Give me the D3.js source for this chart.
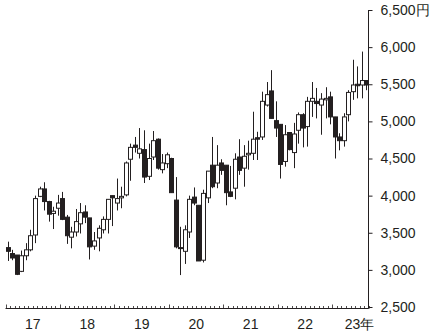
<!DOCTYPE html>
<html>
<head>
<meta charset="utf-8">
<script src="https://cdn.jsdelivr.net/npm/d3@7"></script>
<style>
	body { margin: 0; background: #fff; }
	svg text { font-family: "Liberation Sans", Arial, sans-serif; fill: #231f20; }
</style>
</head>
<body>
<svg id="chart" width="437" height="333"></svg>
<script>
// monthly candles, Jan 2017 .. Aug 2023 (yen)
const open_v = [3300,3220,3200,2980,3190,3270,3470,3990,4090,3920,3760,3830,
	3960,3710,3440,3510,3620,3780,3700,3320,3430,3540,3680,4000,
	3900,3970,4010,4490,4680,4570,4620,4260,4520,4760,4350,4430,
	4500,3940,3300,3250,3510,3980,3870,3130,3970,4410,4170,4440,
	4410,4050,4100,4520,4370,4550,4570,4780,4790,5220,5410,5010,
	4960,4460,4850,4580,4880,5090,4930,5270,5270,5220,5290,5330,
	5060,4790,4740,5090,5400,5500,5490,5550];
const close_v = [3250,3160,2940,3190,3270,3460,3960,4090,3920,3750,3790,3900,
	3680,3460,3510,3650,3770,3710,3310,3390,3560,3680,3950,3970,
	3960,3990,4440,4650,4650,4630,4250,4500,4740,4370,4440,4550,
	4040,3310,3290,3540,3950,3900,3120,4030,4330,4120,4410,4340,
	4040,3990,4490,4340,4530,4570,4760,4760,5270,5360,5040,4910,
	4420,4820,4620,4830,5090,4910,5270,5310,5240,5300,5310,5060,
	4790,4740,5060,5390,5490,5480,5550,5490];
const high_v = [3380,3270,3200,3260,3360,3540,4000,4120,4180,3930,3850,4010,
	4050,3740,3580,3820,3900,3870,3700,3510,3600,3720,3950,4000,
	4230,4120,4460,4700,4790,4910,4880,4700,4870,4770,4560,4580,
	4510,4250,3580,3600,4000,4110,3870,4080,4330,4790,4680,4490,
	4410,4400,4570,4760,4680,4740,5130,4860,5400,5530,5690,5270,
	4960,4950,4850,4980,5120,5110,5330,5530,5450,5380,5460,5400,
	5060,4840,5110,5420,5830,5740,5940,5550];
const low_v = [3120,3130,2930,2970,3130,3250,3360,3980,3800,3650,3550,3730,
	3670,3350,3290,3450,3490,3630,3140,3270,3250,3490,3490,3590,
	3800,3830,3990,4200,4580,4500,4170,4210,4480,4350,4300,4370,
	4040,3290,2930,3080,3430,3870,3120,3100,3900,4100,4100,4280,
	3870,3980,3950,4280,4120,4350,4480,4480,4750,5200,5040,4790,
	4230,4390,4610,4370,4700,4650,4660,5060,5040,4820,5040,4960,
	4500,4610,4660,5000,5290,5310,5310,5420];

const y_ticks = [2500,3000,3500,4000,4500,5000,5500,6000,6500];
const year_labels = ["17","18","19","20","21","22","23年"];

function drawChart(svg_id) {
	const svg = d3.select('#' + svg_id);

	const n = open_v.length;
	const months_per_year = 12;
	const x = d3.scaleLinear().domain([0, n]).range([5.5, 368.7]);
	const y = d3.scaleLinear().domain([2500, 6500]).range([307, 10]);
	const ink = "#231f20";

	const candles = d3.range(n).map(i => ({
		i: i, o: open_v[i], c: close_v[i], h: high_v[i], l: low_v[i]
	}));

	const bw = 4;
	const g = svg.append('g');

	// wicks
	g.selectAll('line.wick')
		.data(candles)
		.enter()
		.append('line')
		.attr('class', 'wick')
		.attr('x1', d => Math.round(x(d.i + 0.5)) + 0.5)
		.attr('x2', d => Math.round(x(d.i + 0.5)) + 0.5)
		.attr('y1', d => y(d.h))
		.attr('y2', d => y(d.l))
		.attr('stroke', ink)
		.attr('stroke-width', 1);

	// bodies
	g.selectAll('rect.body')
		.data(candles)
		.enter()
		.append('rect')
		.attr('class', 'body')
		.attr('x', d => Math.round(x(d.i + 0.5)) + 0.5 - bw / 2)
		.attr('y', d => y(Math.max(d.o, d.c)))
		.attr('width', bw)
		.attr('height', d => Math.max(1, Math.abs(y(d.o) - y(d.c))))
		.attr('fill', d => d.c < d.o ? ink : "#fff")
		.attr('stroke', ink)
		.attr('stroke-width', 1);

	// right price axis
	const yAxis = d3.axisRight(y)
		.tickValues(y_ticks)
		.tickSize(4)
		.tickPadding(8)
		.tickFormat(v => d3.format(",")(v) + (v === 6500 ? "円" : ""));

	const ya = svg.append('g')
		.attr('transform', 'translate(368.5,0)')
		.call(yAxis);
	ya.select('.domain').attr('stroke', ink).attr('d', 'M0,' + y(6500) + 'V' + (y(2500) + 1.5));
	ya.selectAll('.tick line').attr('stroke', ink);
	ya.selectAll('.tick text')
		.attr('font-size', 14)
		.attr('font-family', '"Liberation Sans", Arial, sans-serif')
		.attr('fill', ink);

	// bottom time axis: monthly minor ticks, yearly major ticks
	const base = 308.5;
	const xa = svg.append('g');
	xa.append('line')
		.attr('x1', x(0)).attr('x2', x(n))
		.attr('y1', base).attr('y2', base)
		.attr('stroke', ink);
	xa.selectAll('line.mtick')
		.data(d3.range(0, n + 1))
		.enter()
		.append('line')
		.attr('class', 'mtick')
		.attr('x1', d => Math.round(x(d)) + 0.5)
		.attr('x2', d => Math.round(x(d)) + 0.5)
		.attr('y1', base)
		.attr('y2', d => d % months_per_year === 0 ? base - 4 : base - 2.5)
		.attr('stroke', ink)
		.attr('stroke-width', 0.8);

	xa.selectAll('text.year')
		.data(year_labels)
		.enter()
		.append('text')
		.attr('class', 'year')
		.attr('x', (d, i) => x(i * months_per_year + 6))
		.attr('y', 329)
		.attr('text-anchor', 'middle')
		.attr('font-size', 14)
		.text(d => d);
}

function whenDocumentLoaded(action) {
	if (document.readyState === "loading") {
		document.addEventListener("DOMContentLoaded", action);
	} else {
		action();
	}
}

whenDocumentLoaded(() => {
	drawChart('chart');
});
</script>
</body>
</html>
